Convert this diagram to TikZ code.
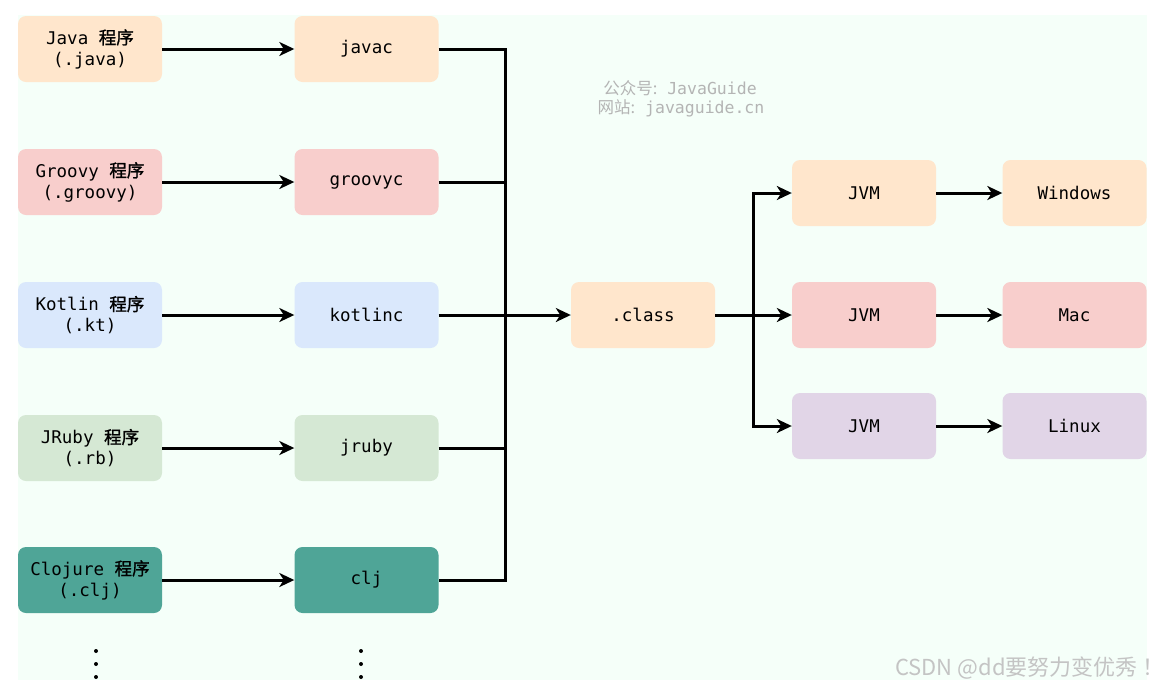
\documentclass[tikz,border=0pt]{standalone}
\usepackage{fontspec}
\setmonofont{DejaVu Sans Mono}
\newfontfamily\cjk[FakeBold=1.2]{Noto Sans CJK SC}
\newfontfamily\cjkwm{Noto Sans CJK SC}
\newfontfamily\cjksans{Noto Sans CJK SC}
\usetikzlibrary{arrows.meta}
\definecolor{bg}{HTML}{F5FFF9}
\definecolor{cOrange}{HTML}{FFE6CC}
\definecolor{cRed}{HTML}{F8CECC}
\definecolor{cBlue}{HTML}{DAE8FC}
\definecolor{cGreen}{HTML}{D5E8D4}
\definecolor{cTeal}{HTML}{4FA597}
\definecolor{cPurple}{HTML}{E1D5E7}
\definecolor{wm}{HTML}{B4B4B4}
\definecolor{csdn}{HTML}{C4C4C4}
\tikzset{
  box/.style={rounded corners=8pt, minimum width=144pt, minimum height=66pt,
    inner sep=0pt, align=center, font=\ttfamily\fontsize{17.5}{21}\selectfont, text=black},
  wire/.style={line width=3pt, black},
  arr/.style={wire, -{Stealth[length=15pt,width=14pt,inset=4.5pt]}},
  dotmark/.style={circle, fill=black, inner sep=0pt, minimum size=4pt},
}
\begin{document}
\begin{tikzpicture}[x=1pt,y=-1pt]
\useasboundingbox (0,0) rectangle (1167,689);
\fill[white] (0,0) rectangle (1167,689);
\fill[bg] (18,15) rectangle (1147,680);

% sources
\node[box, fill=cOrange] (s1) at (90,49)  {Java {\cjk 程序}\\(.java)};
\node[box, fill=cRed]    (s2) at (90,182) {Groovy {\cjk 程序}\\(.groovy)};
\node[box, fill=cBlue]   (s3) at (90,315) {Kotlin {\cjk 程序}\\(.kt)};
\node[box, fill=cGreen]  (s4) at (90,448) {JRuby {\cjk 程序}\\(.rb)};
\node[box, fill=cTeal]   (s5) at (90,580) {Clojure {\cjk 程序}\\(.clj)};

% compilers
\node[box, fill=cOrange] (c1) at (366.5,49)  {javac};
\node[box, fill=cRed]    (c2) at (366.5,182) {groovyc};
\node[box, fill=cBlue]   (c3) at (366.5,315) {kotlinc};
\node[box, fill=cGreen]  (c4) at (366.5,448) {jruby};
\node[box, fill=cTeal]   (c5) at (366.5,580) {clj};

\node[box, fill=cOrange] (cls) at (643,315) {.class};

\node[box, fill=cOrange] (v1) at (864,193) {JVM};
\node[box, fill=cRed]    (v2) at (864,315) {JVM};
\node[box, fill=cPurple] (v3) at (864,426) {JVM};

\node[box, fill=cOrange] (o1) at (1074.5,193) {Windows};
\node[box, fill=cRed]    (o2) at (1074.5,315) {Mac};
\node[box, fill=cPurple] (o3) at (1074.5,426) {Linux};

% watermark
\node[text=wm, font=\ttfamily\fontsize{16.5}{20}\selectfont, anchor=center] (wm1) at (680,88) {{\cjkwm 公众号:} JavaGuide};
\node[text=wm, font=\ttfamily\fontsize{16.5}{20}\selectfont, anchor=center] (wm2) at (681,108) {{\cjkwm 网站:} javaguide.cn};
\node[text=csdn, font=\cjksans\fontsize{22}{26}\selectfont, anchor=center] (cs) at (1030,668) {CSDN @dd要努力变优秀 ！};

% arrows source -> compiler
\foreach \i in {1,...,5} { \draw[arr] (s\i.east) -- (c\i.west); }

% left bus
\coordinate (bus) at (505,315);
\draw[wire] (c1.east) -| (bus |- c5.east) -- (c5.east);
\draw[wire] (c2.east) -- (c2.east -| bus);
\draw[wire] (c4.east) -- (c4.east -| bus);
\draw[arr] (c3.east) -- (cls.west);

% right bus
\coordinate (bus2) at (753,315);
\draw[arr] (cls.east) -- (v2.west);
\draw[arr] (bus2) |- (v1.west);
\draw[arr] (bus2) |- (v3.west);

\foreach \i in {1,2,3} { \draw[arr] (v\i.east) -- (o\i.west); }

% ellipsis dots
\foreach \y [count=\k] in {651,664,677} {
  \node[dotmark] (da\k) at (96,\y) {};
  \node[dotmark] (db\k) at (361,\y) {};
}
\end{tikzpicture}
\end{document}
